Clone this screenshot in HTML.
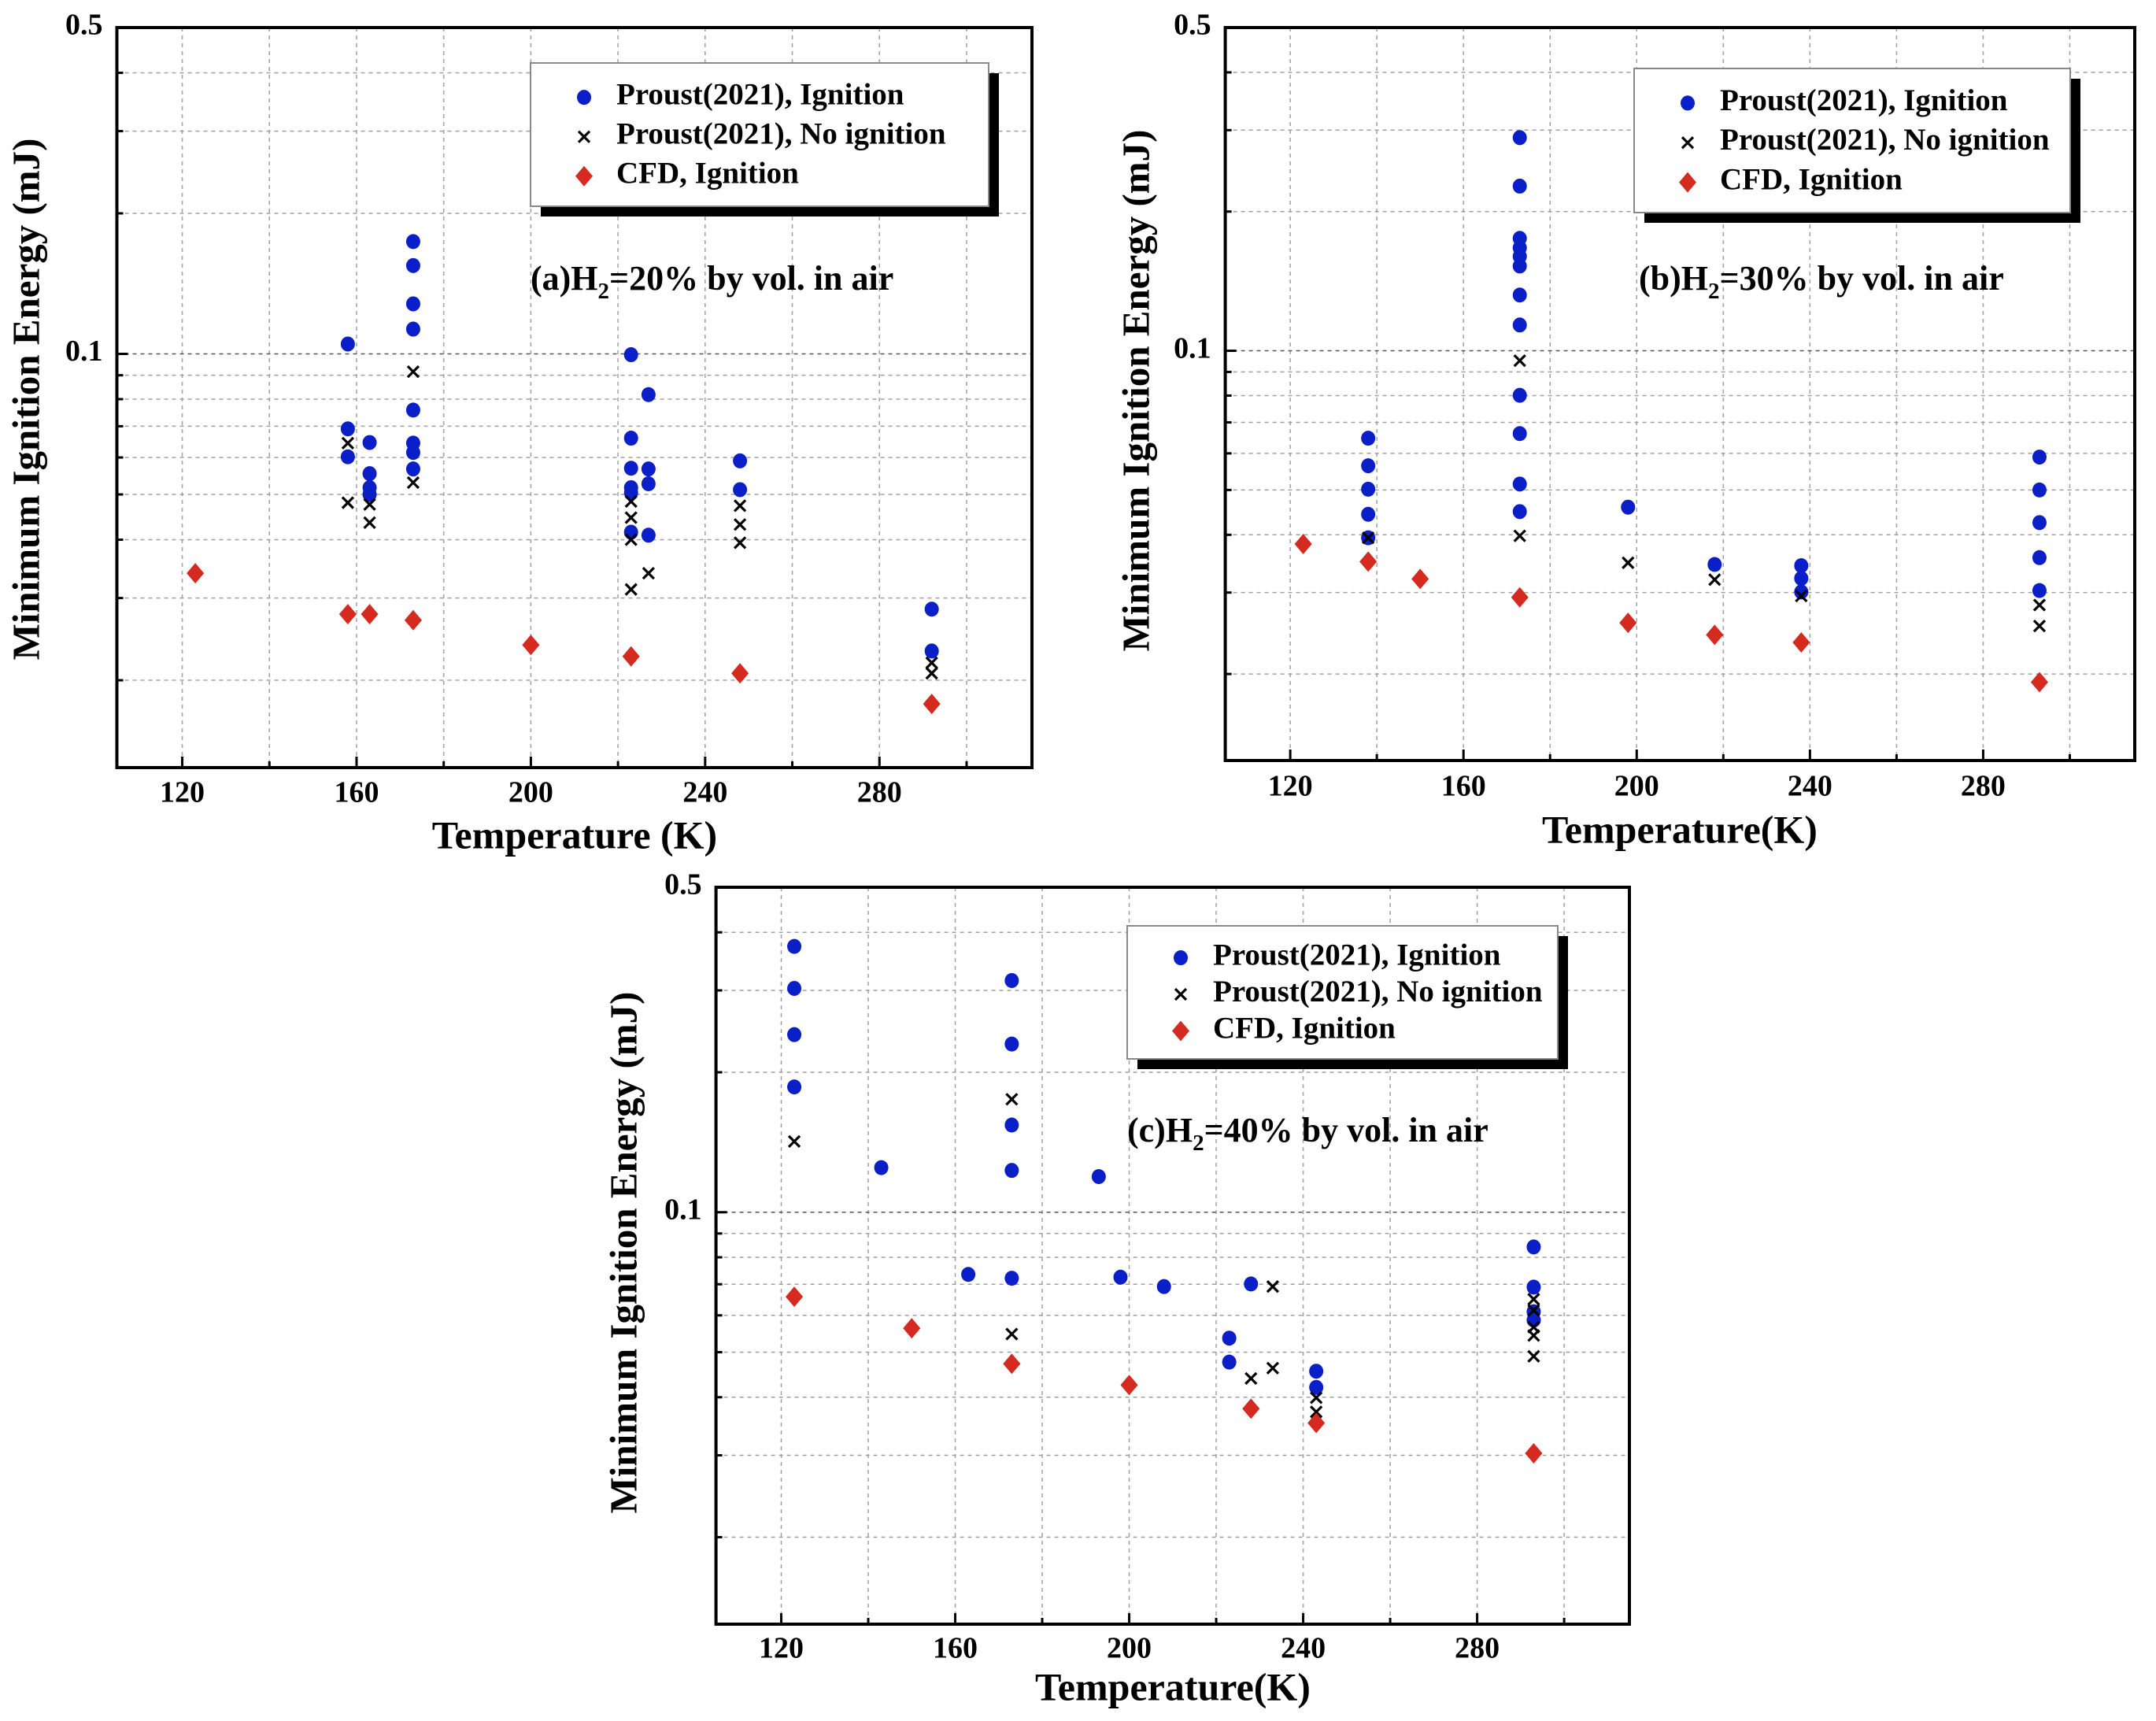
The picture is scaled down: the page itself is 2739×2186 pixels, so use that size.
<!DOCTYPE html>
<html><head><meta charset="utf-8"><style>
html,body{margin:0;padding:0;background:#fff;overflow:hidden;}
svg{display:block;font-family:"Liberation Serif",serif;font-weight:bold;}
</style></head><body>
<svg id="fig" width="2739" height="2186" viewBox="0 0 2739 2186" xmlns="http://www.w3.org/2000/svg"></svg>
<script>
// shared axis settings
const xTicks = [120,160,200,240,280];
const xGrid = [120,140,160,180,200,220,240,260,280,300];
const yGrid = [0.4,0.3,0.2,0.1,0.09,0.08,0.07,0.06,0.05,0.04,0.03,0.02];
const yLabels = [0.5,0.1];

// Panel (a) H2=20%
const aIgnT = [158,158,158,163,163,163,163,173,173,173,173,173,173,173,173,223,223,223,223,223,223,227,227,227,227,248,248,292,292];
const aIgnE = [0.105,0.0691,0.0602,0.0646,0.0554,0.0517,0.050,0.174,0.1546,0.128,0.113,0.0758,0.0644,0.0615,0.0567,0.0996,0.066,0.0569,0.0517,0.0504,0.0415,0.0818,0.0567,0.0527,0.0409,0.059,0.0512,0.0284,0.0231];
const aNoT = [158,158,163,163,173,173,223,223,223,223,227,248,248,248,292,292];
const aNoE = [0.0644,0.048,0.0476,0.0435,0.0916,0.053,0.0483,0.0446,0.040,0.0313,0.0339,0.0473,0.0431,0.0394,0.0218,0.0207];
const aCfdT = [123,158,163,173,200,223,248,292];
const aCfdE = [0.0339,0.0277,0.0277,0.0269,0.0238,0.0225,0.0207,0.0178];

// Panel (b) H2=30%
const bIgnT = [138,138,138,138,138,173,173,173,173,173,173,173,173,173,173,173,173,198,218,238,238,238,293,293,293,293,293];
const bIgnE = [0.0647,0.0564,0.0502,0.0443,0.0394,0.289,0.227,0.175,0.167,0.160,0.1525,0.132,0.1137,0.0801,0.0662,0.0515,0.0449,0.0459,0.0345,0.0343,0.0322,0.0301,0.0589,0.050,0.0425,0.0357,0.0303];
const bNoT = [138,173,173,198,218,238,293,293];
const bNoE = [0.0394,0.0952,0.0398,0.0348,0.032,0.0295,0.0282,0.0254];
const bCfdT = [123,138,150,173,198,218,238,293];
const bCfdE = [0.0382,0.035,0.0321,0.0293,0.0258,0.0243,0.0234,0.0192];

// Panel (c) H2=40%
const cIgnT = [123,123,123,123,143,163,173,173,173,173,173,193,198,208,228,223,223,243,243,293,293,293,293];
const cIgnE = [0.373,0.303,0.241,0.186,0.1247,0.0735,0.315,0.230,0.154,0.123,0.0721,0.1193,0.0725,0.0692,0.0701,0.0536,0.0476,0.0455,0.042,0.0842,0.069,0.0611,0.0586];
const cNoT = [123,173,173,228,233,233,243,243,293,293,293,293,293];
const cNoE = [0.142,0.175,0.0547,0.0439,0.0692,0.0462,0.0399,0.0372,0.065,0.0615,0.0566,0.0543,0.049];
const cCfdT = [123,150,173,200,228,243,293];
const cCfdE = [0.0658,0.0563,0.0472,0.0425,0.0378,0.0352,0.0303];

const NS = "http://www.w3.org/2000/svg";
const svg = document.getElementById('fig');
function mk(tag, attrs, parent){
  const e = document.createElementNS(NS, tag);
  for (const k in attrs) e.setAttribute(k, attrs[k]);
  (parent||svg).appendChild(e);
  return e;
}

function panel(p){
  const g = mk('g', {});
  
  
  const xMin=105, xMax=315, yMin=0.013, yMax=0.5;
  const X = t => p.L + (t - xMin)/(xMax - xMin)*(p.R - p.L);
  const Y = v => p.T + (Math.log10(yMax) - Math.log10(v))/(Math.log10(yMax) - Math.log10(yMin))*(p.B - p.T);
  xGrid.forEach(t=>{
    const l = mk('line',{x1:X(t),x2:X(t),y1:p.T,y2:p.B,stroke:'#a0a0a0','stroke-width':1.5,'stroke-dasharray':'5,5'},g);
    
    
    mk('line',{x1:X(t),x2:X(t),y1:p.B,y2:p.B-(xTicks.includes(t)?14:8),stroke:'#000','stroke-width':3},g);
  });
  yGrid.forEach(v=>{
    const l = mk('line',{x1:p.L,x2:p.R,y1:Y(v),y2:Y(v),stroke:v===0.1?'#555':'#a0a0a0','stroke-width':1.5,'stroke-dasharray':'5,5'},g);
    
    
    mk('line',{x1:p.L,x2:p.L+(v===0.1?14:8),y1:Y(v),y2:Y(v),stroke:'#000','stroke-width':3},g);
  });
  const fr = mk('rect',{x:p.L,y:p.T,width:p.R-p.L,height:p.B-p.T,fill:'none',stroke:'#000','stroke-width':4},g);
  
  
  xTicks.forEach(t=>{
    const tx = mk('text',{x:X(t),y:p.xTickY,'font-size':38,'text-anchor':'middle','dominant-baseline':'middle'},g);
    tx.textContent = t;
    
    
  });
  yLabels.forEach(v=>{
    const tx = mk('text',{x:p.L-18,y:Y(v),'font-size':38,'text-anchor':'end','dominant-baseline':'middle'},g);
    tx.textContent = v;
    
    
  });
  const xt = mk('text',{x:p.xTitleX,y:p.xTitleY,'font-size':50,'text-anchor':'middle','dominant-baseline':'middle'},g);
  xt.textContent = p.xTitle;
  
  
  const yt = mk('text',{x:0,y:0,'font-size':49,'text-anchor':'middle','dominant-baseline':'middle',transform:`translate(${p.yTitleX},${p.yTitleY}) rotate(-90)`},g);
  yt.textContent = 'Minimum Ignition Energy (mJ)';
  
  
  p.ignT.forEach((t,i)=>{
    const c = mk('ellipse',{cx:X(t),cy:Y(p.ignE[i]),rx:9,ry:9.5,fill:'#0a1fc8'},g);
    
    
  });
  p.noT.forEach((t,i)=>{
    const x=X(t), y=Y(p.noE[i]), s=7;
    const pth = mk('path',{d:`M${x-s},${y-s}L${x+s},${y+s}M${x-s},${y+s}L${x+s},${y-s}`,stroke:'#000','stroke-width':3.2,fill:'none'},g);
    
    
  });
  p.cfdT.forEach((t,i)=>{
    const x=X(t), y=Y(p.cfdE[i]), s=13;
    const d = mk('path',{d:`M${x},${y-s}L${x+s*0.85},${y}L${x},${y+s}L${x-s*0.85},${y}Z`,fill:'#d42a1f'},g);
    
    
  });
  const an = mk('text',{x:p.annX,y:p.annY,'font-size':44},g);
  
  
  an.innerHTML = `${p.annPre}H<tspan font-size="29" dy="11">2</tspan><tspan dy="-11">=${p.pct}% by vol. in air</tspan>`;
  const lg = mk('g',{},g);
  
  
  const lw = p.legR - p.legL, lh = p.legB - p.legT;
  mk('rect',{x:p.legL+13,y:p.legT+13,width:lw,height:lh,fill:'#000'},lg);
  mk('rect',{x:p.legL,y:p.legT,width:lw,height:lh,fill:'#fff',stroke:'#888','stroke-width':2},lg);
  const mx = p.legL + 68, tx0 = p.legL + 109;
  const rows = ['Proust(2021), Ignition','Proust(2021), No ignition','CFD, Ignition'];
  rows.forEach((r,i)=>{
    const ry = p.legT + 0.24*lh + i*0.275*lh;
    const e = mk('g',{},lg);
    
    
    if(i===0) mk('ellipse',{cx:mx,cy:ry,rx:9,ry:9.5,fill:'#0a1fc8'},e);
    if(i===1) mk('path',{d:`M${mx-7},${ry-7}L${mx+7},${ry+7}M${mx-7},${ry+7}L${mx+7},${ry-7}`,stroke:'#000','stroke-width':3.2},e);
    if(i===2) mk('path',{d:`M${mx},${ry-13}L${mx+11},${ry}L${mx},${ry+13}L${mx-11},${ry}Z`,fill:'#d42a1f'},e);
    const t = mk('text',{x:tx0,y:ry,'font-size':39,'dominant-baseline':'middle'},e);
    t.textContent = r;
  });
}

panel({name:'panel-a-h2-20',L:148.5,R:1311,T:35,B:975,xTickY:1010,xTitle:'Temperature (K)',xTitleX:730,xTitleY:1066,yTitleX:38,yTitleY:507,
  ignT:aIgnT,ignE:aIgnE,noT:aNoT,noE:aNoE,cfdT:aCfdT,cfdE:aCfdE,annX:674,annY:368,annPre:'(a)',pct:20,
  legL:674,legR:1256,legT:80,legB:262});
panel({name:'panel-b-h2-30',L:1556.6,R:2712,T:35,B:966,xTickY:1002,xTitle:'Temperature(K)',xTitleX:2134,xTitleY:1059,yTitleX:1448,yTitleY:496,
  ignT:bIgnT,ignE:bIgnE,noT:bNoT,noE:bNoE,cfdT:bCfdT,cfdE:bCfdE,annX:2082,annY:368,annPre:'(b)',pct:30,
  legL:2076,legR:2630,legT:87,legB:270});
panel({name:'panel-c-h2-40',L:909.6,R:2070,T:1127,B:2063,xTickY:2097,xTitle:'Temperature(K)',xTitleX:1490,xTitleY:2148,yTitleX:797,yTitleY:1591,
  ignT:cIgnT,ignE:cIgnE,noT:cNoT,noE:cNoE,cfdT:cCfdT,cfdE:cCfdE,annX:1432,annY:1450,annPre:'(c)',pct:40,
  legL:1432,legR:1979,legT:1176,legB:1345});
</script>
</body></html>
